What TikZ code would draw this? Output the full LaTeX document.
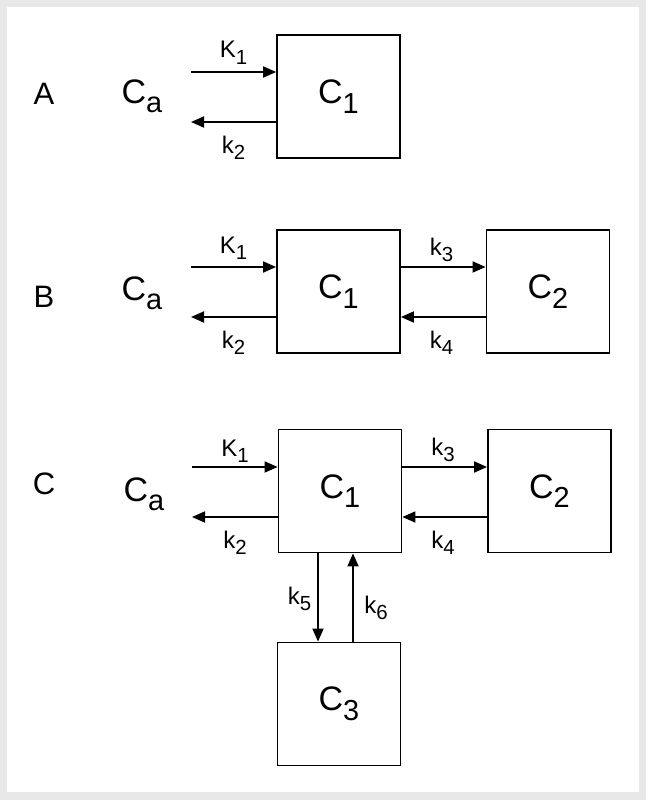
\documentclass[tikz,border=0pt]{standalone}
\usepackage{xcolor}
\usepackage{fontspec}
\setmainfont{Liberation Sans}
\usepackage{tikz}
\usetikzlibrary{arrows.meta}

\definecolor{framegray}{HTML}{E8E8E8}
\newcommand{\lowsub}[1]{\raisebox{-0.28em}{\scalebox{0.85}{#1}}}
\newcommand{\boxfont}{\fontsize{34}{34}\selectfont}
\newcommand{\ratefont}{\fontsize{24}{24}\selectfont}
\newcommand{\bigfont}{\fontsize{31}{31}\selectfont}

\tikzset{
  compartment/.style={draw, line width=1.8pt, minimum size=123pt, inner sep=0pt, font=\boxfont},
  flow/.style={line width=1.8pt, -{Triangle[length=13pt,width=11pt]}},
  rate/.style={anchor=base, inner sep=0pt, font=\ratefont},
  tag/.style={anchor=base, inner sep=0pt, font=\bigfont},
  plasma/.style={anchor=base, inner sep=0pt, font=\boxfont}
}

\begin{document}
\begin{tikzpicture}[x=1pt,y=-1pt]
                \fill[framegray] (0,0) rectangle (646,800);
                \fill[white] (7,7) rectangle (639,792);
                \useasboundingbox (0,0) rectangle (646,800);
                % model A
                \node[tag] (labA) at (44,104) {A};
                \node[plasma] (caA) at (142,103) {C\lowsub{a}};
                \node[compartment] (c1A) at (338.5,96.5) {C\lowsub{1}};
                \coordinate (inA) at (191,72);
                \coordinate (outA) at (191,122);
                \draw[flow] (inA) -- (inA -| c1A.west);
                \draw[flow] (outA -| c1A.west) -- (outA);
                \node[rate] (K1A) at (233.5,58) {K\lowsub{1}};
                \node[rate] (k2A) at (233.5,153) {k\lowsub{2}};
                % model B
                \node[tag] (labB) at (44,307) {B};
                \node[plasma] (caB) at (142,300) {C\lowsub{a}};
                \node[compartment] (c1B) at (338.5,291.5) {C\lowsub{1}};
                \node[compartment] (c2B) at (548,291.5) {C\lowsub{2}};
                \coordinate (inB) at (191,267);
                \coordinate (outB) at (191,317);
                \draw[flow] (inB) -- (inB -| c1B.west);
                \draw[flow] (outB -| c1B.west) -- (outB);
                \draw[flow] ([yshift=24.5pt]c1B.east) -- ([yshift=24.5pt]c2B.west);
                \draw[flow] ([yshift=-25.5pt]c2B.west) -- ([yshift=-25.5pt]c1B.east);
                \node[rate] (K1B) at (233.5,253) {K\lowsub{1}};
                \node[rate] (k2B) at (233.5,348) {k\lowsub{2}};
                \node[rate] (k3B) at (441.5,255) {k\lowsub{3}};
                \node[rate] (k4B) at (441.5,348) {k\lowsub{4}};
                % model C
                \node[tag] (labC) at (44,494) {C};
                \node[plasma] (caC) at (144,501) {C\lowsub{a}};
                \node[compartment] (c1C) at (340,491) {C\lowsub{1}};
                \node[compartment] (c2C) at (549.5,491) {C\lowsub{2}};
                \node[compartment] (c3C) at (339,704) {C\lowsub{3}};
                \coordinate (inC) at (192,467);
                \coordinate (outC) at (192,517);
                \draw[flow] (inC) -- (inC -| c1C.west);
                \draw[flow] (outC -| c1C.west) -- (outC);
                \draw[flow] ([yshift=24pt]c1C.east) -- ([yshift=24pt]c2C.west);
                \draw[flow] ([yshift=-26pt]c2C.west) -- ([yshift=-26pt]c1C.east);
                \draw[flow] ([xshift=-22pt]c1C.south) -- ([xshift=-22pt]c1C.south |- c3C.north);
                \draw[flow] ([xshift=13pt]c1C.south |- c3C.north) -- ([xshift=13pt]c1C.south);
                \node[rate] (K1C) at (235,456) {K\lowsub{1}};
                \node[rate] (k2C) at (235,548) {k\lowsub{2}};
                \node[rate] (k3C) at (443,455) {k\lowsub{3}};
                \node[rate] (k4C) at (443,548) {k\lowsub{4}};
                \node[rate] (k5C) at (299.5,604) {k\lowsub{5}};
                \node[rate] (k6C) at (376,613) {k\lowsub{6}};
            \end{tikzpicture}
\end{document}
